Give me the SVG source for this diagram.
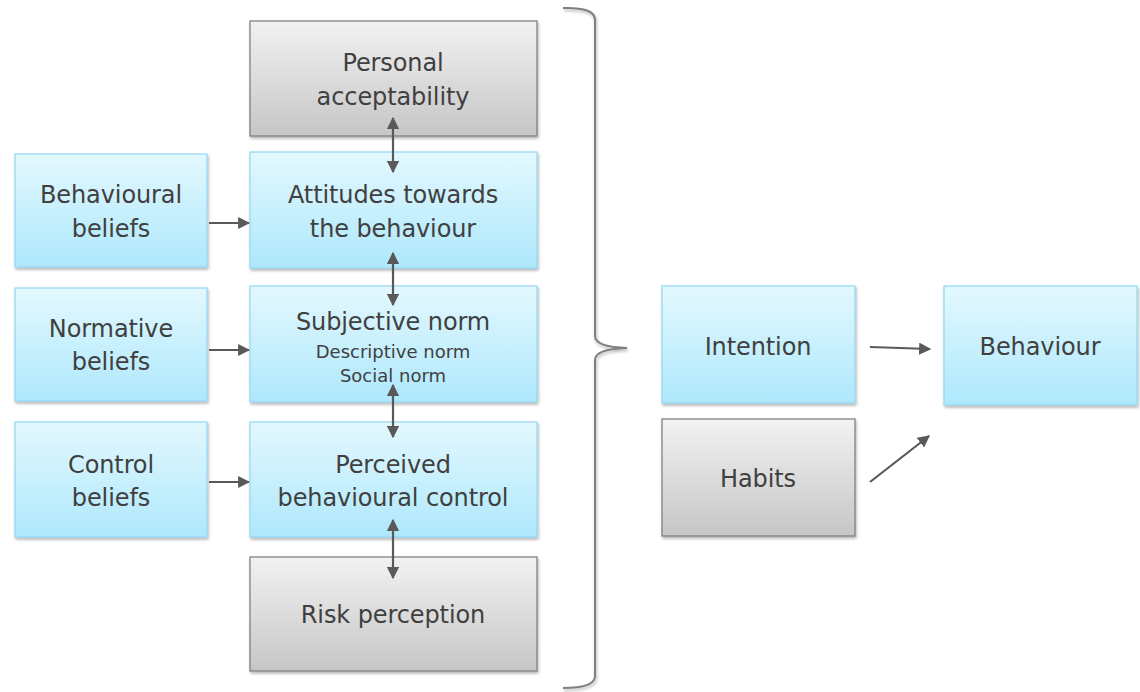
<svg xmlns="http://www.w3.org/2000/svg" width="1140" height="692" viewBox="0 0 1140 692">
<defs>
<linearGradient id="gb" x1="0" y1="0" x2="0" y2="1"><stop offset="0" stop-color="#e3f8fe"/><stop offset="1" stop-color="#aee8fc"/></linearGradient>
<linearGradient id="gg" x1="0" y1="0" x2="0" y2="1"><stop offset="0" stop-color="#f2f2f2"/><stop offset="1" stop-color="#c6c6c6"/></linearGradient>
<filter id="sh" x="-5%" y="-5%" width="115%" height="120%"><feDropShadow dx="1" dy="2" stdDeviation="1.5" flood-color="#000" flood-opacity="0.3"/></filter>
<marker id="ah" viewBox="0 0 10 10" refX="9" refY="5" markerWidth="5.5" markerHeight="5.5" orient="auto-start-reverse"><path d="M0,0 L10,5 L0,10 z" fill="#595959"/></marker>
</defs>
<style>
.b{fill:url(#gb);stroke:#94d6f4;stroke-width:1.2;filter:url(#sh)}
.g{fill:url(#gg);stroke:#7a7a7a;stroke-width:1.2;filter:url(#sh)}
text{font-family:"DejaVu Sans",Verdana,sans-serif;fill:#404040;text-anchor:middle;font-size:24px;letter-spacing:-0.1px}
.s{font-size:18px;letter-spacing:0}
.c{stroke:#595959;stroke-width:2.2;fill:none}
</style>
<rect width="1140" height="692" fill="#fff"/>
<g id="personal"><rect class="g" x="250" y="21" width="287" height="115"/><text x="393" y="71">Personal</text><text x="393" y="105">acceptability</text></g>
<g id="attitudes"><rect class="b" x="250" y="152" width="287" height="116"/><text x="393" y="203">Attitudes towards</text><text x="393" y="237">the behaviour</text></g>
<g id="behavioural"><rect class="b" x="15" y="154" width="192" height="113"/><text x="111" y="203">Behavioural</text><text x="111" y="237">beliefs</text></g>
<g id="subjective"><rect class="b" x="250" y="286" width="287" height="116"/><text x="393" y="330">Subjective norm</text><text class="s" x="393" y="358">Descriptive norm</text><text class="s" x="393" y="382">Social norm</text></g>
<g id="normative"><rect class="b" x="15" y="288" width="192" height="113"/><text x="111" y="337">Normative</text><text x="111" y="370">beliefs</text></g>
<g id="perceived"><rect class="b" x="250" y="422" width="287" height="115"/><text x="393" y="473">Perceived</text><text x="393" y="506">behavioural control</text></g>
<g id="control"><rect class="b" x="15" y="422" width="192" height="115"/><text x="111" y="473">Control</text><text x="111" y="506">beliefs</text></g>
<g id="risk"><rect class="g" x="250" y="557" width="287" height="114"/><text x="393" y="623">Risk perception</text></g>
<g id="intention"><rect class="b" x="662" y="286" width="193" height="117"/><text x="758" y="355">Intention</text></g>
<g id="habits"><rect class="g" x="662" y="419" width="193" height="117"/><text x="758" y="487">Habits</text></g>
<g id="behaviour"><rect class="b" x="944" y="286" width="193" height="119"/><text x="1040" y="355">Behaviour</text></g>
<g id="connectors">
<path class="c" d="M393,118 V172" marker-start="url(#ah)" marker-end="url(#ah)"/>
<path class="c" d="M393,253 V305" marker-start="url(#ah)" marker-end="url(#ah)"/>
<path class="c" d="M393,385 V437" marker-start="url(#ah)" marker-end="url(#ah)"/>
<path class="c" d="M393,520 V578" marker-start="url(#ah)" marker-end="url(#ah)"/>
<path class="c" d="M209,223 H249" marker-end="url(#ah)"/>
<path class="c" d="M209,350 H249" marker-end="url(#ah)"/>
<path class="c" d="M209,482 H249" marker-end="url(#ah)"/>
<path class="c" d="M870,347 L930,349" marker-end="url(#ah)"/>
<path class="c" d="M870,482 L929,436" marker-end="url(#ah)"/>
<path d="M563,8 Q595,7 595,20 V336 Q595,347 627,348 Q595,349 595,360 V676 Q595,688 563,688" fill="none" stroke="#7f7f7f" stroke-width="2" filter="url(#sh)"/>
</g>
</svg>
